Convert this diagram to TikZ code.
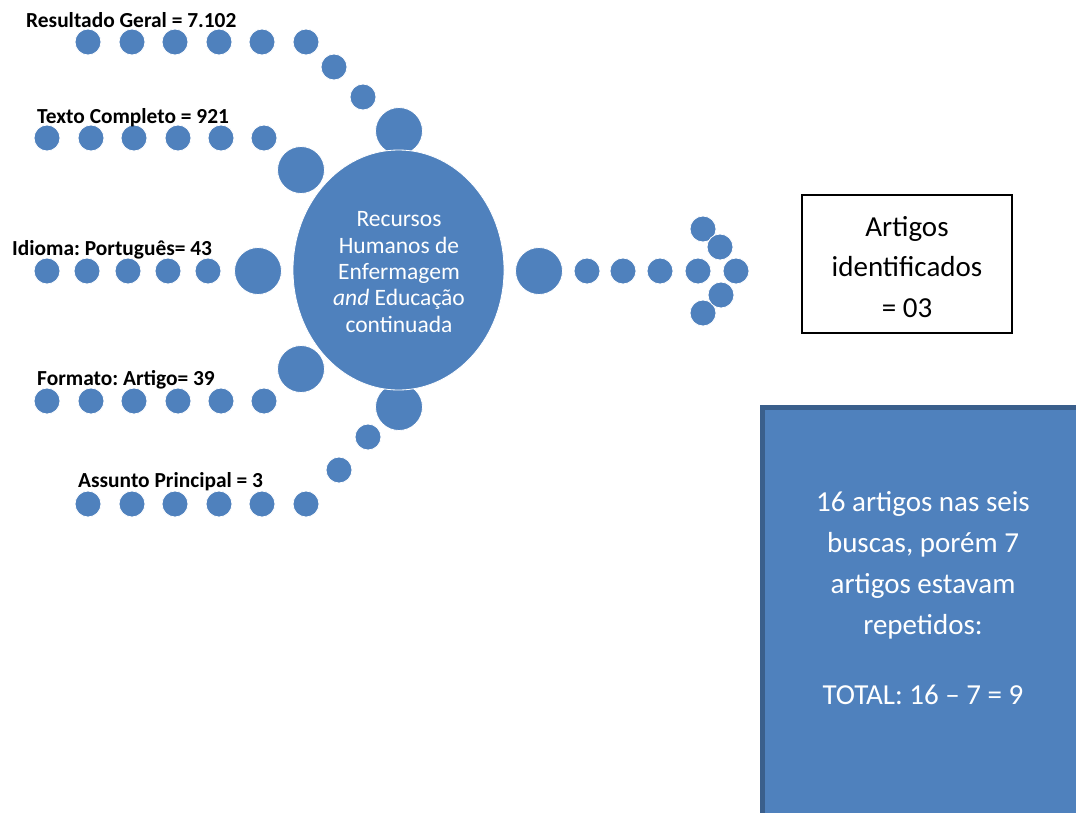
\documentclass[tikz,border=0pt]{standalone}
\usepackage{fontspec}
\setmainfont{Carlito}
\frenchspacing
\usetikzlibrary{shapes.geometric}
\definecolor{oblue}{HTML}{4F81BD}
\definecolor{dblue}{HTML}{3A5F8C}
\tikzset{
  sdot/.style={circle, fill=oblue, draw=white, line width=0.8pt, minimum size=26pt, inner sep=0pt},
  bdot/.style={circle, fill=oblue, draw=white, line width=0.8pt, minimum size=47pt, inner sep=0pt},
  lbl/.style={anchor=base west, inner sep=0pt, font=\fontsize{21.4}{25}\selectfont\bfseries},
}
\begin{document}
\begin{tikzpicture}[x=1pt,y=-1pt]
\useasboundingbox (0,0) rectangle (1076,812);
% row 1 : Resultado Geral
\foreach \x [count=\i] in {88,132,175,219,262,306} \node[sdot] (ra\i) at (\x,42) {};
\node[sdot] (ra7) at (334,67) {};
\node[sdot] (ra8) at (363,97) {};
\node[bdot] (ra9) at (399,131) {};
% row 2 : Texto Completo
\foreach \x [count=\i] in {47,91,134,178,221,264} \node[sdot] (rb\i) at (\x,138) {};
\node[bdot] (rb7) at (301,170) {};
% row 3 : Idioma
\foreach \x [count=\i] in {47,87,128,168,208} \node[sdot] (rc\i) at (\x,271) {};
\node[bdot] (rc6) at (258,271) {};
% row 4 : Formato
\foreach \x [count=\i] in {47,91,134,178,221,264} \node[sdot] (rd\i) at (\x,401) {};
\node[bdot] (rd7) at (301,369) {};
% row 5 : Assunto
\foreach \x [count=\i] in {88,132,175,219,262,306} \node[sdot] (re\i) at (\x,504) {};
\node[sdot] (re7) at (339,470) {};
\node[sdot] (re8) at (368,437) {};
\node[bdot] (re9) at (399,407) {};
% center ellipse
\node[ellipse, fill=oblue, draw=white, line width=0.8pt, minimum width=211pt, minimum height=240pt, inner sep=0pt] (ctr) at (398.5,270) {};
\node[align=center, text=white, font=\fontsize{23.5}{26.3}\selectfont, inner sep=0pt] (ctrtxt) at (399,272)
  {Recursos\\Humanos de\\Enfermagem\\\textit{and} Educação\\continuada};
% labels
\node[lbl] (la) at (26,27) {Resultado Geral = 7.102};
\node[lbl] (lb) at (37,123) {Texto Completo = 921};
\node[lbl] (lc) at (12,255) {Idioma: Português= 43};
\node[lbl] (ld) at (37,385) {Formato: Artigo= 39};
\node[lbl] (le) at (78,487) {Assunto Principal = 3};
% arrow
\node[bdot] (aa) at (539,271) {};
\foreach \x [count=\i] in {587,623,660,698} \node[sdot] (ab\i) at (\x,271) {};
\node[sdot] (ah1) at (703,229) {};
\node[sdot] (ah2) at (720,247) {};
\node[sdot] (ah5) at (703,313) {};
\node[sdot] (ah4) at (721,295) {};
\node[sdot] (ah3) at (736,271) {};
% result box
\node[draw=black, line width=1.6pt, minimum width=210pt, minimum height=138pt, inner sep=0pt] (res) at (907,264) {};
\node[align=center, font=\fontsize{29}{40.5}\selectfont, inner sep=0pt] (restxt) at (907,267) {Artigos\\identificados\\= 03};
% blue box
\draw[fill=oblue, draw=dblue, line width=5pt] (762.5,407.5) rectangle (1110,850);
\node[align=center, text=white, font=\fontsize{29}{41}\selectfont, inner sep=0pt] (btxt) at (923,598)
  {16 artigos nas seis\\buscas, porém 7\\artigos estavam\\repetidos:\\[29pt]TOTAL: 16 – 7 = 9};
\end{tikzpicture}
\end{document}
